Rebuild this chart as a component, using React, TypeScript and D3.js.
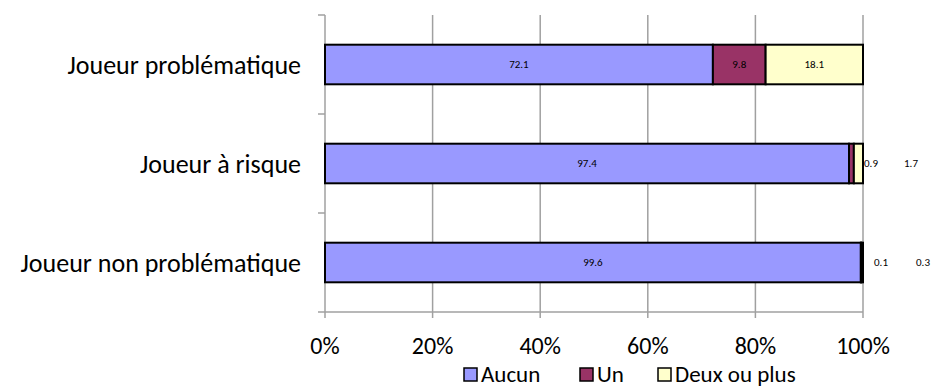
import React, { useEffect, useRef } from 'react';
import * as d3 from 'd3';

const categories = ['Joueur problématique', 'Joueur à risque', 'Joueur non problématique'];
const seriesNames = ['Aucun', 'Un', 'Deux ou plus'];
const aucun = [72.1, 97.4, 99.6];
const un = [9.8, 0.9, 0.1];
const deuxOuPlus = [18.1, 1.7, 0.3];
const xTicks = [0, 20, 40, 60, 80, 100];
const colors = ['#9999FF', '#993366', '#FFFFCC'];

const App = () => {
  const svgRef = useRef<SVGSVGElement>(null);

  useEffect(() => {
    const svg = d3.select(svgRef.current);
    svg.selectAll('*').remove();

    const width = 932;
    const marginLeft = 325;
    const marginRight = 69;
    const marginTop = 15;
    const plotBottom = 312;
    const font = 'Carlito, Calibri, Lato, sans-serif';

    const rows = categories.map((c, i) => ({ cat: c, Aucun: aucun[i], Un: un[i], 'Deux ou plus': deuxOuPlus[i] }));

    const x = d3.scaleLinear([0, 100], [marginLeft, width - marginRight]);
    const y = d3.scaleBand(categories, [marginTop, plotBottom]).paddingInner(0.6).paddingOuter(0.3);

    // gridlines
    svg.append('g')
      .selectAll('line')
      .data(xTicks.slice(1))
      .join('line')
      .attr('x1', d => x(d)).attr('x2', d => x(d))
      .attr('y1', marginTop).attr('y2', plotBottom + 6)
      .attr('stroke', '#a0a0a0').attr('stroke-width', 1.5);

    // left axis with category tick marks
    const bandStep = (plotBottom - marginTop) / categories.length;
    const yTicks = d3.range(categories.length + 1).map(i => marginTop + i * bandStep);
    svg.append('line')
      .attr('x1', x(0)).attr('x2', x(0))
      .attr('y1', marginTop).attr('y2', plotBottom + 6)
      .attr('stroke', '#a0a0a0').attr('stroke-width', 1.5);
    svg.append('g')
      .selectAll('line')
      .data(yTicks)
      .join('line')
      .attr('x1', x(0) - 7).attr('x2', x(0))
      .attr('y1', d => d).attr('y2', d => d)
      .attr('stroke', '#a0a0a0').attr('stroke-width', 1.5);
    svg.append('line')
      .attr('x1', x(0)).attr('x2', x(100))
      .attr('y1', plotBottom).attr('y2', plotBottom)
      .attr('stroke', '#a0a0a0').attr('stroke-width', 1.5);

    // x tick labels
    svg.append('g')
      .selectAll('text')
      .data(xTicks)
      .join('text')
      .attr('x', d => x(d))
      .attr('y', 354)
      .attr('text-anchor', 'middle')
      .attr('font-family', font)
      .attr('font-size', 24)
      .text(d => `${d}%`);

    // category labels
    svg.append('g')
      .selectAll('text')
      .data(categories)
      .join('text')
      .attr('x', 301)
      .attr('y', d => (y(d) as number) + y.bandwidth() / 2)
      .attr('dy', '0.35em')
      .attr('text-anchor', 'end')
      .attr('font-family', font)
      .attr('font-size', 26)
      .text(d => d);

    const stacked = d3.stack<any>().keys(seriesNames)(rows);

    const layers = svg.append('g')
      .selectAll('g')
      .data(stacked)
      .join('g')
      .attr('fill', (_, i) => colors[i]);

    layers.selectAll('rect')
      .data(d => d)
      .join('rect')
      .attr('x', d => x(d[0]))
      .attr('width', d => Math.max(0, x(d[1]) - x(d[0])))
      .attr('y', d => y(d.data.cat) as number)
      .attr('height', y.bandwidth())
      .attr('stroke', '#000')
      .attr('stroke-width', 2);

    // data labels
    const labels: { x: number; y: number; t: string }[] = [];
    stacked.forEach((layer, li) => {
      layer.forEach(d => {
        const v = d[1] - d[0];
        const yc = (y(d.data.cat) as number) + y.bandwidth() / 2;
        let lx = x((d[0] + d[1]) / 2);
        if (v < 5) {
          // small segments: labels pushed outside the bar
          const small = d.data.Un < 0.5;
          lx = x(100) + (li === 1 ? (small ? 18 : 8) : (small ? 60 : 48));
        }
        labels.push({ x: lx, y: yc, t: d3.format('.1f')(v) });
      });
    });
    svg.append('g')
      .selectAll('text')
      .data(labels)
      .join('text')
      .attr('x', d => d.x)
      .attr('y', d => d.y)
      .attr('dy', '0.35em')
      .attr('text-anchor', 'middle')
      .attr('font-family', font)
      .attr('font-size', 11)
      .text(d => d.t);

    // legend
    const legendX = [464, 580, 658];
    const legend = svg.append('g')
      .selectAll('g')
      .data(seriesNames)
      .join('g')
      .attr('transform', (_, i) => `translate(${legendX[i]},368)`);
    legend.append('rect')
      .attr('width', 13).attr('height', 13)
      .attr('fill', (_, i) => colors[i])
      .attr('stroke', '#000').attr('stroke-width', 1.5);
    legend.append('text')
      .attr('x', 17).attr('y', 14)
      .attr('font-family', font)
      .attr('font-size', 23)
      .text(d => d);
  }, []);

  return (
    <svg
      ref={svgRef}
      width={932}
      height={387}
      viewBox="0 0 932 387"
      style={{ position: 'absolute', left: 0, top: 0, background: '#fff' }}
    />
  );
};

export default App;
